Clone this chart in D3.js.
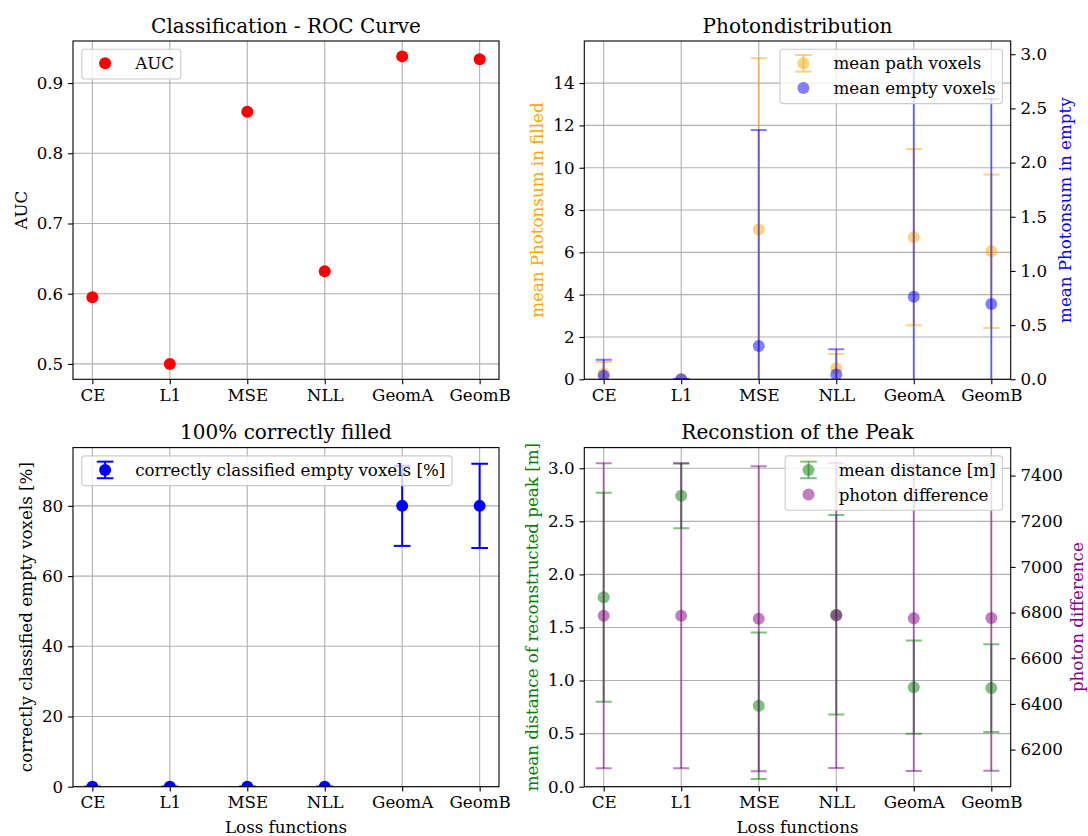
<!DOCTYPE html>
<html>
<head>
<meta charset="utf-8">
<script src="https://cdn.jsdelivr.net/npm/d3@7"></script>
<style>
  body { margin: 0; background: #fff; }
  svg { display: block; }
  text { font-family: "DejaVu Serif", serif; fill: #000; }
</style>
</head>
<body>
<svg id="chart" width="1088" height="836"></svg>
<script>
// ---- data -------------------------------------------------------------
const categories = ["CE", "L1", "MSE", "NLL", "GeomA", "GeomB"];

const aucValues = [0.595, 0.500, 0.859, 0.632, 0.938, 0.934];

const pathVoxelMean = [0.28, 0.0, 7.08, 0.52, 6.72, 6.05];
const pathVoxelErr  = [0.54, 0.0, 8.10, 0.68, 4.17, 3.63];
const emptyVoxelMean = [0.033, 0.0, 0.307, 0.044, 0.762, 0.695];
const emptyVoxelErr  = [0.148, 0.0, 1.993, 0.233, 2.131, 1.891];

const correctEmptyMean = [0, 0, 0, 0, 80.0, 80.0];
const correctEmptyErr  = [0, 0, 0, 0, 11.4, 12.0];

const peakDistMean = [1.785, 2.740, 0.762, 1.620, 0.938, 0.929];
const peakDistErr  = [0.985, 0.306, 0.690, 0.939, 0.439, 0.414];
const photonDiffMean = [6786, 6786, 6773, 6787, 6775, 6776];
const photonDiffErr  = [668, 668, 668, 668, 669, 669];

const aucTicks = [0.5, 0.6, 0.7, 0.8, 0.9];
const photonFilledTicks = [0, 2, 4, 6, 8, 10, 12, 14];
const photonEmptyTicks = [0, 0.5, 1.0, 1.5, 2.0, 2.5, 3.0];
const correctTicks = [0, 20, 40, 60, 80];
const distTicks = [0, 0.5, 1.0, 1.5, 2.0, 2.5, 3.0];
const photonDiffTicks = [6200, 6400, 6600, 6800, 7000, 7200, 7400];

// ---- style ------------------------------------------------------------
const FS = 16.7;          // tick, label and legend text
const TITLE_FS = 20;
const TICK_LEN = 4.9, TICK_PAD = 4.9;
const GRID = "#b0b0b0";
const ORANGE = "#ffa500", BLUE = "#0000ff", RED = "#ff0000",
      GREEN = "#008000", PURPLE = "#800080";

const svg = d3.select("#chart");
svg.append("rect").attr("width", 1088).attr("height", 836).attr("fill", "#fff");

const panels = {
  tl: { left: 73,    right: 499,    top: 41,    bottom: 379.3 },
  tr: { left: 584.3, right: 1010.7, top: 41,    bottom: 379.3 },
  bl: { left: 73,    right: 499,    top: 447.6, bottom: 786.7 },
  br: { left: 584.3, right: 1010.7, top: 447.6, bottom: 786.7 }
};

// matplotlib-like automatic limits: 5% margin around the data extent
function paddedExtent(lo, hi) {
  const m = (hi - lo) * 0.05;
  return [lo - m, hi + m];
}
function errExtent(means, errs) {
  return paddedExtent(d3.min(means, (v, i) => v - errs[i]),
                      d3.max(means, (v, i) => v + errs[i]));
}

let clipId = 0;
function makePanel(p) {
  const g = svg.append("g");
  const id = "clip" + (clipId++);
  g.append("clipPath").attr("id", id)
    .append("rect")
    .attr("x", p.left).attr("y", p.top)
    .attr("width", p.right - p.left).attr("height", p.bottom - p.top);
  const x = d3.scaleLinear().domain([-0.25, categories.length - 0.75])
    .range([p.left, p.right]);
  const grid = g.append("g");
  const plot = g.append("g").attr("clip-path", `url(#${id})`);
  const over = g.append("g");
  return { g, grid, plot, over, x, p };
}

function drawGrid(P, y, ticks) {
  const { grid, x, p } = P;
  grid.selectAll(null).data(categories).enter().append("line")
    .attr("x1", (d, i) => x(i)).attr("x2", (d, i) => x(i))
    .attr("y1", p.top).attr("y2", p.bottom)
    .attr("stroke", GRID).attr("stroke-width", 1.1);
  grid.selectAll(null).data(ticks).enter().append("line")
    .attr("x1", p.left).attr("x2", p.right)
    .attr("y1", d => y(d)).attr("y2", d => y(d))
    .attr("stroke", GRID).attr("stroke-width", 1.1);
}

function styleAxis(sel) {
  sel.select(".domain").remove();
  sel.selectAll(".tick line").attr("stroke", "#000").attr("stroke-width", 1.1);
  sel.selectAll(".tick text").attr("font-size", FS)
    .attr("font-family", "DejaVu Serif").attr("fill", "#000");
}

function drawFrame(P, y, ticks, fmt, opts) {
  const { over, x, p } = P;
  const xa = over.append("g").attr("transform", `translate(0,${p.bottom})`)
    .call(d3.axisBottom(x).tickValues(d3.range(categories.length))
      .tickFormat(i => categories[i]).tickSize(TICK_LEN).tickPadding(TICK_PAD));
  styleAxis(xa);
  const ya = over.append("g").attr("transform", `translate(${p.left},0)`)
    .call(d3.axisLeft(y).tickValues(ticks).tickFormat(fmt)
      .tickSize(TICK_LEN).tickPadding(TICK_PAD));
  styleAxis(ya);
  if (opts.yRight) {
    const ra = over.append("g").attr("transform", `translate(${p.right},0)`)
      .call(d3.axisRight(opts.yRight).tickValues(opts.rightTicks)
        .tickFormat(opts.rightFmt).tickSize(TICK_LEN).tickPadding(TICK_PAD));
    styleAxis(ra);
  }
  over.append("rect")
    .attr("x", p.left).attr("y", p.top)
    .attr("width", p.right - p.left).attr("height", p.bottom - p.top)
    .attr("fill", "none").attr("stroke", "#000").attr("stroke-width", 1.1);
  // title
  over.append("text")
    .attr("x", (p.left + p.right) / 2).attr("y", p.top - 8.3)
    .attr("text-anchor", "middle").attr("font-size", TITLE_FS)
    .text(opts.title);
  // y labels
  const cy = (p.top + p.bottom) / 2;
  over.append("text")
    .attr("transform", `translate(${opts.ylabelX},${cy}) rotate(-90)`)
    .attr("text-anchor", "middle").attr("dy", "0.35em")
    .attr("font-size", FS).style("fill", opts.ylabelColor || "#000")
    .text(opts.ylabel);
  if (opts.rlabel) {
    over.append("text")
      .attr("transform", `translate(${opts.rlabelX},${cy}) rotate(-90)`)
      .attr("text-anchor", "middle").attr("dy", "0.35em")
      .attr("font-size", FS).style("fill", opts.rlabelColor)
      .text(opts.rlabel);
  }
  if (opts.xlabel) {
    over.append("text")
      .attr("x", (p.left + p.right) / 2).attr("y", 832.5)
      .attr("text-anchor", "middle").attr("font-size", FS)
      .text(opts.xlabel);
  }
}

function drawErrorbars(layer, x, y, means, errs, color, opacity, lw, capHalf) {
  const eg = layer.append("g");
  means.forEach((m, i) => {
    const cx = x(i), y0 = y(m - errs[i]), y1 = y(m + errs[i]);
    eg.append("line").attr("x1", cx).attr("x2", cx).attr("y1", y0).attr("y2", y1)
      .attr("stroke", color).attr("stroke-width", lw).attr("stroke-opacity", opacity);
    [y0, y1].forEach(yy => {
      eg.append("line").attr("x1", cx - capHalf).attr("x2", cx + capHalf)
        .attr("y1", yy).attr("y2", yy)
        .attr("stroke", color).attr("stroke-width", lw).attr("stroke-opacity", opacity);
    });
  });
}

function drawDots(layer, x, y, values, color, opacity, r) {
  layer.append("g").selectAll("circle").data(values).enter().append("circle")
    .attr("cx", (d, i) => x(i)).attr("cy", d => y(d)).attr("r", r)
    .attr("fill", color).attr("fill-opacity", opacity);
}

// legend: entries {label, color, opacity, err}
function drawLegend(P, entries, corner) {
  const { over, p } = P;
  const pad = 6.7, handleLen = 33.4, textPad = 13.4, rowH = 16.3, rowGap = 8.3;
  const lg = over.append("g");
  const box = lg.append("rect");
  const texts = entries.map(e => lg.append("text").attr("font-size", FS).text(e.label));
  const tw = d3.max(texts, t => t.node().getComputedTextLength());
  const w = pad + handleLen + textPad + tw + pad;
  const h = 2 * pad + entries.length * rowH + (entries.length - 1) * rowGap;
  const bx = corner === "left" ? p.left + 8.7 : p.right - 8.3 - w;
  const by = p.top + 8.3;
  box.attr("x", bx).attr("y", by).attr("width", w).attr("height", h)
    .attr("rx", 3).attr("ry", 3)
    .attr("fill", "#fff").attr("fill-opacity", 0.8)
    .attr("stroke", "#cccccc").attr("stroke-width", 1.1);
  entries.forEach((e, i) => {
    const cy = by + pad + rowH / 2 + i * (rowH + rowGap) - 0.8;
    const hx = bx + pad + handleLen / 2;
    if (e.err) {
      lg.append("line").attr("x1", hx).attr("x2", hx).attr("y1", cy - 8.3).attr("y2", cy + 8.3)
        .attr("stroke", e.color).attr("stroke-width", 2).attr("stroke-opacity", e.opacity);
      [cy - 8.3, cy + 8.3].forEach(yy => lg.append("line")
        .attr("x1", hx - 8.3).attr("x2", hx + 8.3).attr("y1", yy).attr("y2", yy)
        .attr("stroke", e.color).attr("stroke-width", 2).attr("stroke-opacity", e.opacity));
    }
    lg.append("circle").attr("cx", hx).attr("cy", cy).attr("r", 6)
      .attr("fill", e.color).attr("fill-opacity", e.opacity);
    texts[i].attr("x", bx + pad + handleLen + textPad).attr("y", cy)
      .attr("dy", "0.36em");
    texts[i].raise();
  });
}

// ---- panel 1: ROC AUC -------------------------------------------------
{
  const P = makePanel(panels.tl);
  const y = d3.scaleLinear().domain(paddedExtent(d3.min(aucValues), d3.max(aucValues)))
    .range([P.p.bottom, P.p.top]);
  drawGrid(P, y, aucTicks);
  drawDots(P.plot, P.x, y, aucValues, RED, 1, 6);
  drawFrame(P, y, aucTicks, d3.format(".1f"), {
    title: "Classification - ROC Curve", ylabel: "AUC", ylabelX: 20.7
  });
  drawLegend(P, [{ label: "AUC", color: RED, opacity: 1 }], "left");
}

// ---- panel 2: photon distribution (twin axes) -------------------------
{
  const P = makePanel(panels.tr);
  const yL = d3.scaleLinear()
    .domain([0, errExtent(pathVoxelMean, pathVoxelErr)[1]])
    .range([P.p.bottom, P.p.top]);
  const yR = d3.scaleLinear()
    .domain([0, errExtent(emptyVoxelMean, emptyVoxelErr)[1]])
    .range([P.p.bottom, P.p.top]);
  drawGrid(P, yL, photonFilledTicks);
  drawErrorbars(P.plot, P.x, yL, pathVoxelMean, pathVoxelErr, ORANGE, 0.5, 2, 8);
  drawDots(P.plot, P.x, yL, pathVoxelMean, ORANGE, 0.5, 6);
  drawErrorbars(P.plot, P.x, yR, emptyVoxelMean, emptyVoxelErr, BLUE, 0.5, 2, 8);
  drawDots(P.plot, P.x, yR, emptyVoxelMean, BLUE, 0.5, 6);
  drawFrame(P, yL, photonFilledTicks, d3.format("d"), {
    title: "Photondistribution",
    ylabel: "mean Photonsum in filled", ylabelX: 536.7, ylabelColor: ORANGE,
    yRight: yR, rightTicks: photonEmptyTicks, rightFmt: d3.format(".1f"),
    rlabel: "mean Photonsum in empty", rlabelX: 1065, rlabelColor: BLUE
  });
  drawLegend(P, [
    { label: "mean path voxels", color: ORANGE, opacity: 0.5, err: true },
    { label: "mean empty voxels", color: BLUE, opacity: 0.5 }
  ], "right");
}

// ---- panel 3: correctly classified empty voxels -----------------------
{
  const P = makePanel(panels.bl);
  const y = d3.scaleLinear()
    .domain([0, errExtent(correctEmptyMean, correctEmptyErr)[1]])
    .range([P.p.bottom, P.p.top]);
  drawGrid(P, y, correctTicks);
  drawErrorbars(P.plot, P.x, y, correctEmptyMean, correctEmptyErr, BLUE, 1, 2, 8.3);
  drawDots(P.plot, P.x, y, correctEmptyMean, BLUE, 1, 6);
  drawFrame(P, y, correctTicks, d3.format("d"), {
    title: "100% correctly filled",
    ylabel: "correctly classified empty voxels [%]", ylabelX: 26,
    xlabel: "Loss functions"
  });
  drawLegend(P, [
    { label: "correctly classified empty voxels [%]", color: BLUE, opacity: 1, err: true }
  ], "left");
}

// ---- panel 4: peak reconstruction (twin axes) -------------------------
{
  const P = makePanel(panels.br);
  const yL = d3.scaleLinear()
    .domain([0, errExtent(peakDistMean, peakDistErr)[1]])
    .range([P.p.bottom, P.p.top]);
  const yR = d3.scaleLinear()
    .domain(errExtent(photonDiffMean, photonDiffErr))
    .range([P.p.bottom, P.p.top]);
  drawGrid(P, yL, distTicks);
  drawErrorbars(P.plot, P.x, yL, peakDistMean, peakDistErr, GREEN, 0.5, 2, 8);
  drawDots(P.plot, P.x, yL, peakDistMean, GREEN, 0.5, 6);
  drawErrorbars(P.plot, P.x, yR, photonDiffMean, photonDiffErr, PURPLE, 0.5, 2, 8);
  drawDots(P.plot, P.x, yR, photonDiffMean, PURPLE, 0.5, 6);
  drawFrame(P, yL, distTicks, d3.format(".1f"), {
    title: "Reconstion of the Peak",
    ylabel: "mean distance of reconstructed peak [m]", ylabelX: 531.7, ylabelColor: GREEN,
    yRight: yR, rightTicks: photonDiffTicks, rightFmt: d3.format("d"),
    rlabel: "photon difference", rlabelX: 1077.5, rlabelColor: PURPLE,
    xlabel: "Loss functions"
  });
  drawLegend(P, [
    { label: "mean distance [m]", color: GREEN, opacity: 0.5, err: true },
    { label: "photon difference", color: PURPLE, opacity: 0.5 }
  ], "right");
}
</script>
</body>
</html>
